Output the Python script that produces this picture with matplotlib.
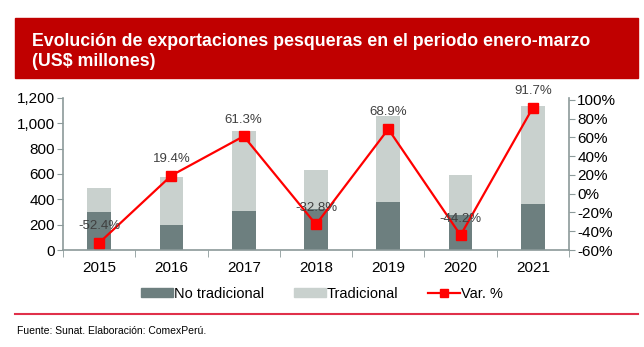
import numpy as np
import matplotlib.pyplot as plt
from matplotlib.patches import Rectangle, Patch
from matplotlib.lines import Line2D
from matplotlib.ticker import FuncFormatter

plt.rcParams['font.family'] = ['Liberation Sans', 'DejaVu Sans']

# Exportaciones pesqueras enero-marzo (US$ millones)
years = ['2015', '2016', '2017', '2018', '2019', '2020', '2021']
no_tradicional = [300, 200, 310, 320, 380, 280, 365]
tradicional = [190, 380, 630, 310, 680, 310, 770]
var_pct = [-52.4, 19.4, 61.3, -32.8, 68.9, -44.2, 91.7]

dark = '#6d7f7f'
light = '#c9d1ce'
red = '#ff0000'
axis_gray = '#8c9a9a'

fig = plt.figure(figsize=(6.44, 3.47), dpi=100)

# title banner
fig.patches.append(Rectangle((15 / 644, 1 - 78 / 347), 623 / 644, 60 / 347,
                             transform=fig.transFigure, color='#c00000', zorder=0))
fig.text(32 / 644, 1 - 41 / 347, 'Evolución de exportaciones pesqueras en el periodo enero-marzo',
         color='white', fontsize=12.8, fontweight='bold', va='center', ha='left')
fig.text(32 / 644, 1 - 61 / 347, '(US$ millones)',
         color='white', fontsize=12.8, fontweight='bold', va='center', ha='left')

ax = fig.add_axes([63 / 644, 1 - 250 / 347, 506 / 644, 152 / 347])
x = np.arange(len(years))
w = 0.33
ax.bar(x, no_tradicional, w, color=dark, zorder=2)
ax.bar(x, tradicional, w, bottom=no_tradicional, color=light, zorder=2)

ax.set_xlim(-0.5, len(years) - 0.5)
ax.set_ylim(0, 1200)
ax.set_yticks(range(0, 1201, 200))
ax.yaxis.set_major_formatter(FuncFormatter(lambda v, p: f'{int(v):,}'))
ax.set_xticks(x)
ax.set_xticklabels(years)
ax.set_xticks(np.arange(-0.5, len(years)), minor=True)
ax.tick_params(axis='x', which='major', length=0, labelsize=11, pad=8)
ax.tick_params(axis='x', which='minor', length=5, color=axis_gray, direction='out')
ax.tick_params(axis='y', labelsize=11, length=4, color=axis_gray, pad=2)
for s in ['top', 'right']:
    ax.spines[s].set_visible(False)
for s in ['left', 'bottom']:
    ax.spines[s].set_color(axis_gray)
    ax.spines[s].set_linewidth(1.2)

ax2 = ax.twinx()
ax2.plot(x, var_pct, color=red, lw=1.6, marker='s', markersize=7, zorder=3)
ax2.set_ylim(-60, 102)
ax2.set_yticks(range(-60, 101, 20))
ax2.yaxis.set_major_formatter(FuncFormatter(lambda v, p: f'{int(v)}%'))
ax2.tick_params(axis='y', labelsize=11, length=4, color=axis_gray, pad=2)
for s in ['top', 'left', 'bottom']:
    ax2.spines[s].set_visible(False)
ax2.spines['right'].set_color(axis_gray)
ax2.spines['right'].set_linewidth(1.2)

for xi, v in zip(x, var_pct):
    ax2.annotate(f'{v:.1f}%', (xi, v), xytext=(0, 12), textcoords='offset points',
                 ha='center', va='center', fontsize=9.5, color='#404040', zorder=4)

handles = [Patch(color=dark, label='No tradicional'),
           Patch(color=light, label='Tradicional'),
           Line2D([0], [0], color=red, lw=1.6, marker='s', markersize=6, label='Var. %')]
fig.legend(handles=handles, loc='center', bbox_to_anchor=(322 / 644, 1 - 294 / 347),
           ncol=3, frameon=False, fontsize=10.5, handlelength=2.2, handleheight=0.6,
           handletextpad=0.1, columnspacing=2.0)

fig.add_artist(Line2D([15 / 644, 638 / 644], [1 - 314 / 347] * 2,
                      transform=fig.transFigure, color='#e0304a', lw=1.5))
fig.text(17 / 644, 1 - 331 / 347, 'Fuente: Sunat. Elaboración: ComexPerú.',
         fontsize=7.5, va='center', ha='left')

fig.savefig('out.png', dpi=100)
